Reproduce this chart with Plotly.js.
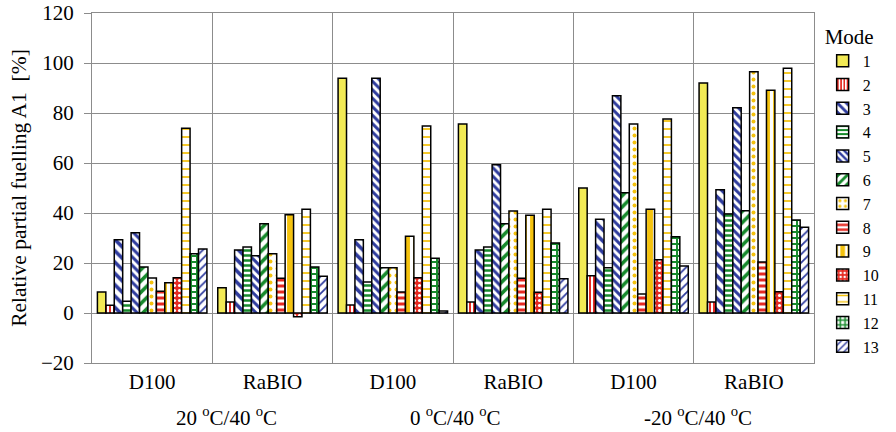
<!DOCTYPE html>
<html>
<head>
<meta charset="utf-8">
<script src="https://cdn.plot.ly/plotly-3.0.1.min.js"></script>
<style>
  html, body { margin: 0; padding: 0; background: #fff; }
  #chart { width: 896px; height: 432px; }
  #chart svg text { font-family: 'Liberation Serif', 'Times New Roman', serif !important; }
</style>
</head>
<body>
<div id="chart"></div>
<script>
// Fuel groups (fuel × temperature pair) along the x axis
const groupLabels = ['D100', 'RaBIO', 'D100', 'RaBIO', 'D100', 'RaBIO'];
const tempLabels = ['20 <sup>o</sup>C/40 <sup>o</sup>C', '0 <sup>o</sup>C/40 <sup>o</sup>C', '-20 <sup>o</sup>C/40 <sup>o</sup>C'];
const modeNames = ['1', '2', '3', '4', '5', '6', '7', '8', '9', '10', '11', '12', '13'];

// Relative partial fuelling A1 [%] per mode, one value per group
const mode1  = [8.4, 10.1, 93.9, 75.6, 50.0, 92.0];
const mode2  = [3.1, 4.4, 3.2, 4.4, 14.9, 4.4];
const mode3  = [29.3, 25.2, 29.3, 25.2, 37.5, 49.3];
const mode4  = [4.7, 26.4, 12.4, 26.4, 18.1, 39.6];
const mode5  = [32.1, 22.9, 93.9, 59.3, 86.9, 82.1];
const mode6  = [18.4, 35.7, 18.1, 35.7, 48.1, 40.9];
const mode7  = [14.0, 23.7, 18.1, 40.8, 75.6, 96.5];
const mode8  = [8.7, 13.9, 8.4, 13.9, 7.6, 20.4];
const mode9  = [12.1, 39.3, 30.7, 39.1, 41.5, 89.1];
const mode10 = [14.1, -1.5, 14.1, 8.3, 21.3, 8.5];
const mode11 = [73.9, 41.5, 74.8, 41.5, 77.6, 97.9];
const mode12 = [23.7, 18.4, 21.9, 28.0, 30.5, 37.2];
const mode13 = [25.6, 14.7, 0.8, 13.7, 18.8, 34.3];
const modeValues = [mode1, mode2, mode3, mode4, mode5, mode6, mode7,
                    mode8, mode9, mode10, mode11, mode12, mode13];

const YEL = '#f2ea55', RED = '#e52a22', BLU = '#2f3c9e', GRN = '#178a2c', ORG = '#f4c20d', WHT = '#ffffff';

// Fill style per mode: base colour + hatch pattern
const fills = [
  { color: YEL },
  { color: WHT, pattern: { shape: '|', fgcolor: RED, bgcolor: WHT, size: 4, solidity: 0.5 } },
  { color: WHT, pattern: { shape: '\\', fgcolor: BLU, bgcolor: WHT, size: 8, solidity: 0.45 } },
  { color: WHT, pattern: { shape: '-', fgcolor: GRN, bgcolor: WHT, size: 5, solidity: 0.5 } },
  { color: WHT, pattern: { shape: '\\', fgcolor: BLU, bgcolor: WHT, size: 6, solidity: 0.5 } },
  { color: WHT, pattern: { shape: '/', fgcolor: GRN, bgcolor: WHT, size: 8, solidity: 0.45 } },
  { color: WHT, pattern: { shape: '.', fgcolor: ORG, bgcolor: WHT, size: 7, solidity: 0.25 } },
  { color: WHT, pattern: { shape: '-', fgcolor: RED, bgcolor: WHT, size: 6, solidity: 0.5 } },
  { color: ORG, pattern: { shape: '|', fgcolor: WHT, bgcolor: ORG, size: 9, solidity: 0.35 } },
  { color: RED, pattern: { shape: '.', fgcolor: WHT, bgcolor: RED, size: 5, solidity: 0.3 } },
  { color: WHT, pattern: { shape: '-', fgcolor: ORG, bgcolor: WHT, size: 8, solidity: 0.22 } },
  { color: WHT, pattern: { shape: '+', fgcolor: GRN, bgcolor: WHT, size: 6, solidity: 0.55 } },
  { color: WHT, pattern: { shape: '/', fgcolor: BLU, bgcolor: WHT, size: 6, solidity: 0.3 } }
];

const xPos = groupLabels.map((_, i) => i);

const traces = modeValues.map((vals, k) => {
  const marker = { color: fills[k].color, line: { color: '#000', width: 1.5 } };
  if (fills[k].pattern) marker.pattern = Object.assign({ fillmode: 'replace' }, fills[k].pattern);
  return { type: 'bar', name: modeNames[k], x: xPos, y: vals, marker: marker, hoverinfo: 'y+name' };
});

const SERIF = 'Liberation Serif';
const mkFont = (size) => ({ family: SERIF, size: size, color: '#000' });

// Temperature pair label under each D100/RaBIO pair
const tempShift = [14, 2, 4];
const annotations = tempLabels.map((t, i) => ({
  text: t, x: 2 * i + 0.5, xref: 'x', y: 0, yref: 'paper',
  xshift: tempShift[i], yshift: -53, yanchor: 'middle', showarrow: false, font: mkFont(21)
}));

const layout = {
  width: 896, height: 432,
  margin: { l: 92, r: 74, t: 13, b: 69 },
  paper_bgcolor: '#fff', plot_bgcolor: '#fff',
  font: mkFont(21),
  barmode: 'group', bargap: 0.09, bargroupgap: 0,
  showlegend: true,
  legend: {
    x: 1.012, xanchor: 'left', y: 0.99, yanchor: 'top',
    title: { text: 'Mode', font: mkFont(21), side: 'top' },
    font: mkFont(16), bgcolor: 'rgba(0,0,0,0)', borderwidth: 0, itemwidth: 30
  },
  xaxis: {
    range: [-0.5, 5.5], tickmode: 'array', tickvals: xPos, ticktext: groupLabels,
    showgrid: false, ticks: '', zeroline: false,
    minor: { tickmode: 'array', tickvals: [0.5, 1.5, 2.5, 3.5, 4.5], showgrid: true, gridcolor: '#8c8c8c', gridwidth: 1, ticks: '' },
    showline: true, mirror: true, linecolor: '#8c8c8c', linewidth: 1,
    tickfont: mkFont(21), automargin: false
  },
  yaxis: {
    range: [-20, 120], dtick: 20, tick0: 0,
    showgrid: true, gridcolor: '#8c8c8c', gridwidth: 1,
    zeroline: true, zerolinecolor: '#8c8c8c', zerolinewidth: 1,
    showline: true, mirror: true, linecolor: '#8c8c8c', linewidth: 1,
    ticks: 'outside', ticklen: 7, tickcolor: '#8c8c8c', ticklabelstandoff: 6,
    tickfont: mkFont(21), automargin: false,
    title: { text: 'Relative partial fuelling A1  [%]', font: mkFont(21.5), standoff: 8 }
  },
  annotations: annotations
};

Plotly.newPlot('chart', traces, layout, { displayModeBar: false, staticPlot: true });
</script>
</body>
</html>
